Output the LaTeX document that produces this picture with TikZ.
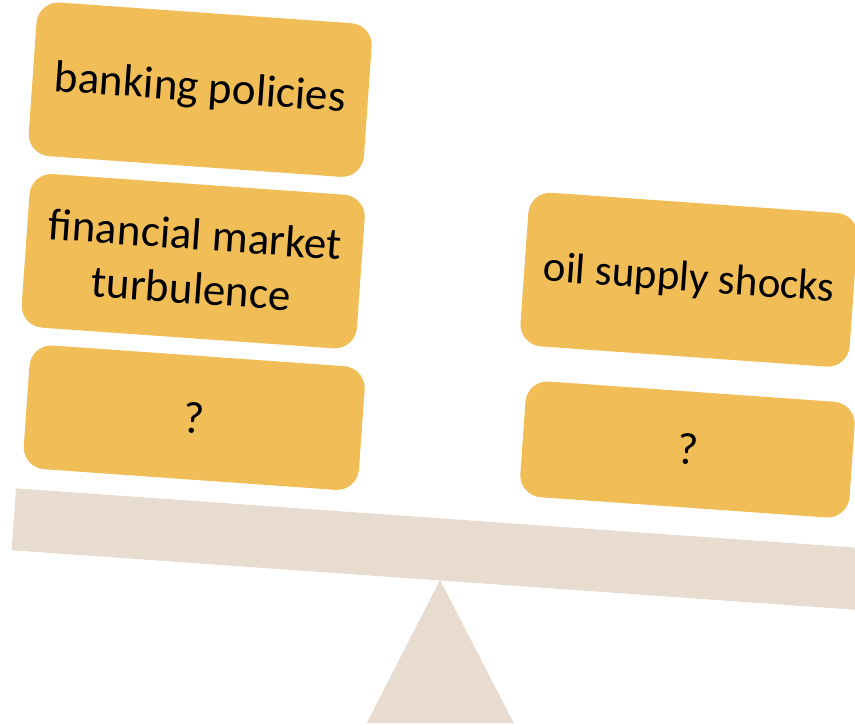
\documentclass[tikz,border=0pt]{standalone}
\usepackage{fontspec}
\setmainfont{Carlito}
\definecolor{weightgold}{HTML}{F1BD56}
\definecolor{plankbeige}{HTML}{E8DCD1}
\begin{document}
\begin{tikzpicture}[x=1pt,y=1pt,
  weight/.style={fill=weightgold, rounded corners=22pt, rotate=-4.05,
    minimum width=336pt, minimum height=154pt, inner sep=0pt,
    align=center, text=black, font=\fontsize{45}{54}\selectfont},
  flat/.style={minimum height=124pt},
  narrow/.style={minimum width=330pt},
  beam/.style={fill=plankbeige, rotate=-4.04, minimum width=900pt,
    minimum height=62pt, inner sep=0pt}]
\useasboundingbox (0,0) rectangle (855,725);
\clip (0,0) rectangle (855,725);

% fulcrum and plank
\fill[plankbeige] (440,145) -- (366.5,1.5) -- (514,1.5) -- cycle;
\node[beam] (plank) at (462.7,174) {};

% left pan
\node[weight] (bank) at (200.2,635.3) {banking policies};
\node[weight] (fin) at (193.2,463.8) {financial market\\turbulence};
\node[weight, flat] (lq) at (194.2,307.3) {?};

% right pan
\node[weight, narrow, font=\fontsize{43}{50}\selectfont] (oil) at (689,445.3) {oil supply shocks};
\node[weight, narrow, minimum height=116pt] (rq) at (687.5,275.5) {?};
\end{tikzpicture}
\end{document}
